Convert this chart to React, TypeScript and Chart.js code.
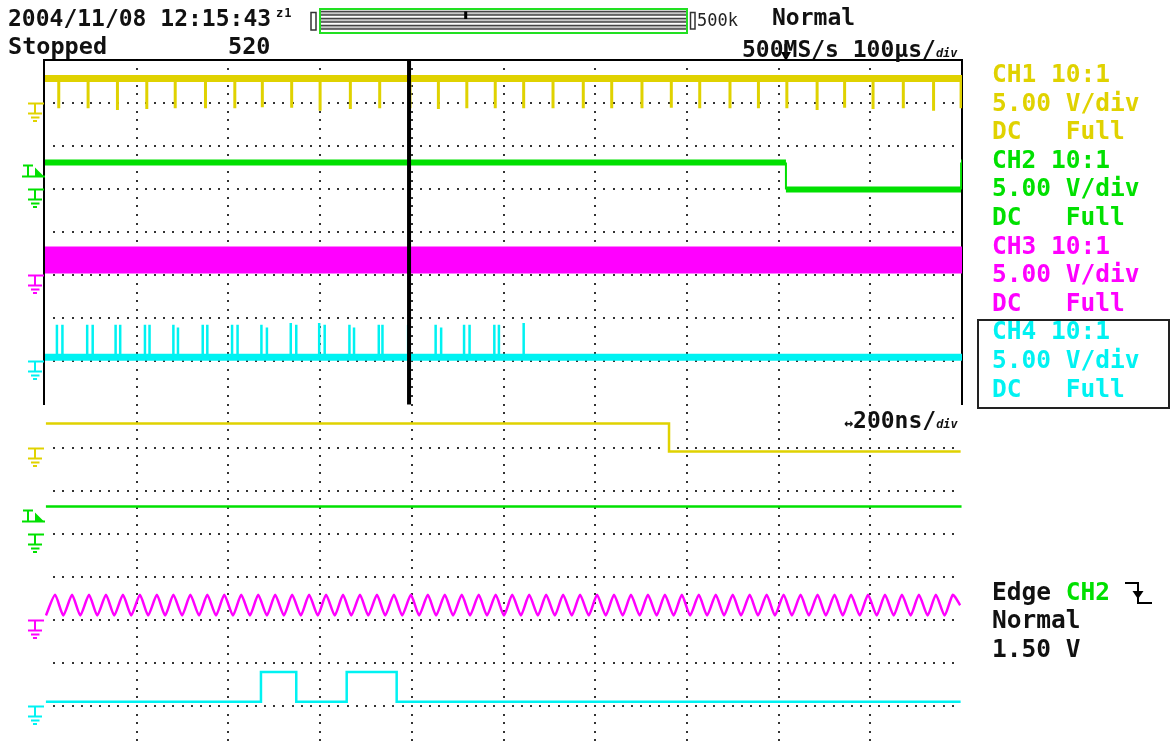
import React, { useEffect, useRef } from 'react';
import { Chart, registerables } from 'chart.js';

Chart.register(...registerables);

const YELLOW = '#e0d200';
const GREEN = '#00e000';
const MAGENTA = '#ff00ff';
const CYAN = '#00f2f2';
const INK = '#111111';
const DOT = '#333333';
const FONT = "'DejaVu Sans Mono', 'Liberation Mono', monospace";

// ---- axes: main window in µs (100 µs/div), zoom window in ns (200 ns/div), levels in divisions
const mainTimeMin = 0;
const mainTimeMax = 1000;
const zoomTimeMin = 0;
const zoomTimeMax = 2000;
const levelMin = 0;
const levelMax = 16;
const gridTimes = [100, 200, 300, 400, 500, 600, 700, 800, 900];
const gridLevels = [1, 2, 3, 4, 5, 6, 7, 9, 10, 11, 12, 13, 14, 15];
const groundLevels = [15, 13, 11, 9, 7, 5, 3, 1];
const triggerLevels = [13.3, 5.3];
const cursorTime = 397;
const triggerTime = 808;

// ---- main window (µs)
const ch1Level = 15.57;
const ch1SpikeTimes = [15, 47, 79, 111, 142, 175, 207, 237, 269, 300, 333, 365, 398, 429, 460, 491,
  522, 554, 587, 618, 651, 683, 714, 747, 778, 809, 842, 872, 903, 936, 969, 999];
const ch1SpikeLows = [14.88, 14.88, 14.84, 14.86, 14.88, 14.88, 14.88, 14.9, 14.89, 14.82, 14.86, 14.88, 14.88, 14.86, 14.88, 14.88,
  14.88, 14.88, 14.88, 14.88, 14.88, 14.89, 14.88, 14.88, 14.88, 14.88, 14.84, 14.89, 14.86, 14.88, 14.82, 14.88];

const ch2Times = [0, 808, 999, 1000];
const ch2Levels = [13.62, 12.99, 13.62];

const ch3BandTimes = [0, 1000];
const ch3BandUpper = [11.65, 11.65];
const ch3BandLower = [11.06, 11.06];

const ch4Level = 9.1;
const ch4PulseTimes = [13, 19, 46, 52, 77, 82, 109, 114, 140, 145, 172, 177, 204, 210, 236, 242,
  268, 274, 299, 305, 332, 337, 364, 368, 396, 426, 432, 457, 463, 490, 495, 522];
const ch4PulseTops = [9.85, 9.85, 9.85, 9.85, 9.85, 9.85, 9.85, 9.85, 9.85, 9.79, 9.85, 9.85, 9.85, 9.85, 9.85, 9.79,
  9.89, 9.85, 9.89, 9.85, 9.85, 9.79, 9.85, 9.85, 9.85, 9.85, 9.79, 9.85, 9.85, 9.85, 9.85, 9.89];

// ---- zoom window (ns)
const ch1ZoomTimes = [2, 1361, 1997];
const ch1ZoomLevels = [7.56, 6.91];

const ch2ZoomTimes = [2, 1999];
const ch2ZoomLevels = [5.63];

const ch3ZoomTroughTimes = [2, 40, 77, 114, 151, 188, 225, 262, 299, 336, 373, 410, 447, 484, 521, 558, 595, 632,
  668, 705, 742, 779, 816, 853, 890, 927, 964, 1001, 1038, 1075, 1112, 1149, 1186, 1223, 1260, 1297, 1334,
  1371, 1407, 1444, 1481, 1518, 1555, 1592, 1629, 1666, 1703, 1740, 1777, 1814, 1851, 1888, 1925, 1962];
const ch3ZoomPeakTimes = [22, 59, 96, 133, 170, 207, 244, 280, 317, 354, 391, 428, 465, 502, 539, 576, 613, 650,
  687, 724, 761, 798, 835, 872, 909, 946, 983, 1019, 1056, 1093, 1130, 1167, 1204, 1241, 1278, 1315, 1352,
  1389, 1426, 1463, 1500, 1537, 1574, 1611, 1648, 1685, 1722, 1758, 1795, 1832, 1869, 1906, 1943, 1980];
const ch3ZoomPeak = 3.58;
const ch3ZoomTrough = 3.1;
const ch3ZoomEnd = { t: 1996, v: 3.34 };

const ch4ZoomTimes = [2, 471, 548, 658, 767, 1997];
const ch4ZoomLevels = [1.1, 1.79, 1.1, 1.79, 1.1];

// ---- helpers building chart data from the arrays above
type P = { x: number; y: number | null };
function stepPoints(times: number[], levels: number[]): P[] {
  const out: P[] = [];
  levels.forEach((lv, i) => {
    out.push({ x: times[i], y: lv }, { x: times[i + 1], y: lv });
  });
  return out;
}
function stepFlats(times: number[], levels: number[]): P[] {
  const out: P[] = [];
  levels.forEach((lv, i) => {
    out.push({ x: times[i], y: lv }, { x: times[i + 1], y: lv }, { x: times[i + 1], y: null });
  });
  return out;
}
function stepEdges(times: number[], levels: number[]): P[] {
  const out: P[] = [];
  for (let i = 1; i < levels.length; i++) {
    out.push({ x: times[i], y: levels[i - 1] }, { x: times[i], y: levels[i] }, { x: times[i], y: null });
  }
  return out;
}
function verticals(times: number[], base: number, ends: number[]): P[] {
  const out: P[] = [];
  times.forEach((t, i) => {
    out.push({ x: t, y: base }, { x: t, y: ends[i] }, { x: t, y: null });
  });
  return out;
}
function pairs(times: number[], vals: number[]): P[] {
  return times.map((t, i) => ({ x: t, y: vals[i] }));
}
function wavePoints(): P[] {
  const out: P[] = [];
  ch3ZoomPeakTimes.forEach((pt, i) => {
    out.push({ x: ch3ZoomTroughTimes[i], y: ch3ZoomTrough });
    out.push({ x: pt, y: ch3ZoomPeak });
  });
  out.push({ x: ch3ZoomEnd.t, y: ch3ZoomEnd.v });
  return out;
}

function line(ctx: CanvasRenderingContext2D, x1: number, y1: number, x2: number, y2: number) {
  ctx.beginPath();
  ctx.moveTo(x1, y1);
  ctx.lineTo(x2, y2);
  ctx.stroke();
}

const groundColors = [YELLOW, GREEN, MAGENTA, CYAN, YELLOW, GREEN, MAGENTA, CYAN];

const scopePlugin = {
  id: 'scopeScreen',
  beforeDatasetsDraw(chart: any) {
    const { ctx, scales } = chart;
    const x = scales.x;
    const y = scales.y;
    ctx.save();
    ctx.fillStyle = DOT;
    for (const t of gridTimes) {
      const px = Math.round(x.getPixelForValue(t));
      for (let k = 1; k <= 80; k++) {
        const py = Math.round(y.getPixelForValue(levelMax - k * 0.2));
        ctx.fillRect(px - 1, py - 1, 2, 2);
      }
    }
    for (const lv of gridLevels) {
      const py = Math.round(y.getPixelForValue(lv));
      for (let k = 1; k < 100; k++) {
        const px = Math.round(x.getPixelForValue(mainTimeMin + k * 10));
        ctx.fillRect(px - 1, py - 1, 2, 2);
      }
    }
    // frame of the main window
    const l = Math.round(x.getPixelForValue(mainTimeMin));
    const r = Math.round(x.getPixelForValue(mainTimeMax));
    const top = Math.round(y.getPixelForValue(levelMax));
    const mid = Math.round(y.getPixelForValue(8));
    ctx.fillStyle = '#000';
    ctx.fillRect(l - 2, top - 1, 2, mid - top + 1);
    ctx.fillRect(l - 2, top - 1, r - l + 3, 2);
    ctx.fillRect(r - 1, top - 1, 2, mid - top + 1);
    ctx.restore();
  },
  afterDraw(chart: any) {
    const { ctx, scales } = chart;
    const x = scales.x;
    const y = scales.y;
    ctx.save();
    ctx.lineCap = 'butt';
    // ground markers
    groundLevels.forEach((lv, i) => {
      const py = Math.round(y.getPixelForValue(lv)) + 0.5;
      ctx.strokeStyle = groundColors[i];
      ctx.lineWidth = 2;
      line(ctx, 28, py, 44, py);
      line(ctx, 35, py, 35, py + 10);
      line(ctx, 28, py + 10, 42, py + 10);
      line(ctx, 31, py + 14, 39.5, py + 14);
      line(ctx, 33, py + 17.5, 37, py + 17.5);
    });
    // trigger level markers (CH2)
    triggerLevels.forEach((lv) => {
      const py = Math.round(y.getPixelForValue(lv)) + 0.5;
      ctx.strokeStyle = GREEN;
      ctx.fillStyle = GREEN;
      ctx.lineWidth = 2;
      line(ctx, 22, py, 45, py);
      line(ctx, 23, py - 11, 33, py - 11);
      line(ctx, 28, py - 11, 28, py);
      ctx.beginPath();
      ctx.moveTo(35, py - 9);
      ctx.lineTo(44, py);
      ctx.lineTo(35, py);
      ctx.closePath();
      ctx.fill();
    });
    // trigger point marker on top edge
    const tx = x.getPixelForValue(triggerTime);
    const top = y.getPixelForValue(levelMax);
    ctx.fillStyle = '#000';
    ctx.fillRect(tx - 1.5, top - 16, 3, 10);
    ctx.beginPath();
    ctx.moveTo(tx - 5, top - 8);
    ctx.lineTo(tx + 5, top - 8);
    ctx.lineTo(tx, top + 1);
    ctx.closePath();
    ctx.fill();

    // record-length bar in the header
    const bx0 = 320;
    const bx1 = 687;
    const stripePairs = [[11.5, 15], [18.5, 22], [25.5, 29]];
    stripePairs.forEach(([a, b]) => {
      ctx.fillStyle = '#c8c8c8';
      ctx.fillRect(bx0, a, bx1 - bx0, b - a);
      ctx.strokeStyle = '#444';
      ctx.lineWidth = 1.4;
      line(ctx, bx0, a, bx1, a);
      line(ctx, bx0, b, bx1, b);
    });
    ctx.strokeStyle = '#22e022';
    ctx.lineWidth = 2;
    ctx.strokeRect(bx0, 9, bx1 - bx0, 24);
    const cx = bx0 + ((cursorTime - mainTimeMin) / (mainTimeMax - mainTimeMin)) * (bx1 - bx0);
    ctx.fillStyle = '#000';
    ctx.fillRect(cx - 1.5, 11.5, 3, 7.5);
    ctx.strokeStyle = '#333';
    ctx.lineWidth = 1.5;
    ctx.strokeRect(311, 12.5, 5, 17.5);
    ctx.strokeRect(690.5, 12.5, 4.5, 16.5);

    // trigger slope icon (falling edge)
    ctx.strokeStyle = '#000';
    ctx.fillStyle = '#000';
    ctx.lineWidth = 2;
    ctx.beginPath();
    ctx.moveTo(1125, 583);
    ctx.lineTo(1138, 583);
    ctx.lineTo(1138, 603);
    ctx.lineTo(1152, 603);
    ctx.stroke();
    ctx.beginPath();
    ctx.moveTo(1132.5, 591);
    ctx.lineTo(1143.5, 591);
    ctx.lineTo(1138, 599);
    ctx.closePath();
    ctx.fill();
    ctx.restore();
  },
};

function Label(props: any) {
  const { x, cy, size = 23.5, color = INK, bold = true, lh = 28, children, style } = props;
  return (
    <div
      style={{
        position: 'absolute',
        left: x,
        top: cy - lh / 2,
        height: lh,
        lineHeight: lh + 'px',
        fontSize: size,
        fontFamily: FONT,
        fontWeight: bold ? 700 : 400,
        color,
        whiteSpace: 'pre',
        ...style,
      }}
    >
      {children}
    </div>
  );
}

const panelLines: [string, string][] = [
  ['CH1 10:1', YELLOW], ['5.00 V/div', YELLOW], ['DC   Full', YELLOW],
  ['CH2 10:1', GREEN], ['5.00 V/div', GREEN], ['DC   Full', GREEN],
  ['CH3 10:1', MAGENTA], ['5.00 V/div', MAGENTA], ['DC   Full', MAGENTA],
  ['CH4 10:1', CYAN], ['5.00 V/div', CYAN], ['DC   Full', CYAN],
];

export default function App() {
  const ref = useRef<HTMLCanvasElement>(null);
  useEffect(() => {
    if (!ref.current) return;
    const thin = { pointRadius: 0, fill: false, tension: 0 };
    const chart = new Chart(ref.current, {
      type: 'line',
      data: {
        datasets: [
          { label: 'cursor', data: pairs([cursorTime, cursorTime], [levelMax, 8]), borderColor: '#000', borderWidth: 4, order: 0, xAxisID: 'x', ...thin },
          { label: 'CH1', data: pairs([mainTimeMin, mainTimeMax], [ch1Level, ch1Level]), borderColor: YELLOW, borderWidth: 7, order: 1, xAxisID: 'x', ...thin },
          { label: 'CH1 glitches', data: verticals(ch1SpikeTimes, ch1Level, ch1SpikeLows), borderColor: YELLOW, borderWidth: 3, order: 1, xAxisID: 'x', ...thin },
          { label: 'CH2', data: stepFlats(ch2Times, ch2Levels), borderColor: GREEN, borderWidth: 6, order: 1, xAxisID: 'x', ...thin },
          { label: 'CH2 edges', data: stepEdges(ch2Times, ch2Levels), borderColor: GREEN, borderWidth: 2, order: 1, xAxisID: 'x', ...thin },
          { label: 'CH3 max', data: pairs(ch3BandTimes, ch3BandUpper), borderColor: MAGENTA, borderWidth: 1.5, order: 2, xAxisID: 'x', ...thin },
          { label: 'CH3 min', data: pairs(ch3BandTimes, ch3BandLower), borderColor: MAGENTA, borderWidth: 1.5, order: 2, xAxisID: 'x', pointRadius: 0, tension: 0, fill: '-1', backgroundColor: MAGENTA },
          { label: 'CH4', data: pairs([mainTimeMin, mainTimeMax], [ch4Level, ch4Level]), borderColor: CYAN, borderWidth: 7, order: 1, xAxisID: 'x', ...thin },
          { label: 'CH4 pulses', data: verticals(ch4PulseTimes, ch4Level, ch4PulseTops), borderColor: CYAN, borderWidth: 2.5, order: 1, xAxisID: 'x', ...thin },
          { label: 'CH1 zoom', data: stepPoints(ch1ZoomTimes, ch1ZoomLevels), borderColor: YELLOW, borderWidth: 2.5, order: 1, xAxisID: 'x2', ...thin },
          { label: 'CH2 zoom', data: stepPoints(ch2ZoomTimes, ch2ZoomLevels), borderColor: GREEN, borderWidth: 2.5, order: 1, xAxisID: 'x2', ...thin },
          { label: 'CH3 zoom', data: wavePoints(), borderColor: MAGENTA, borderWidth: 2.5, order: 1, xAxisID: 'x2', pointRadius: 0, fill: false, tension: 0.2 },
          { label: 'CH4 zoom', data: stepPoints(ch4ZoomTimes, ch4ZoomLevels), borderColor: CYAN, borderWidth: 2.5, order: 1, xAxisID: 'x2', ...thin },
        ] as any,
      },
      options: {
        animation: false,
        responsive: false,
        maintainAspectRatio: false,
        devicePixelRatio: 1,
        events: [],
        layout: { padding: { left: 45, right: 209, top: 60, bottom: 0 } },
        plugins: { legend: { display: false }, tooltip: { enabled: false }, title: { display: false } },
        scales: {
          x: { type: 'linear', axis: 'x', min: mainTimeMin, max: mainTimeMax, display: false },
          x2: { type: 'linear', axis: 'x', min: zoomTimeMin, max: zoomTimeMax, display: false },
          y: { type: 'linear', min: levelMin, max: levelMax, display: false },
        },
      } as any,
      plugins: [scopePlugin],
    });
    return () => chart.destroy();
  }, []);

  return (
    <div style={{ position: 'absolute', left: 0, top: 0, width: 1171, height: 745, overflow: 'hidden', background: '#fff' }}>
      <canvas ref={ref} width={1171} height={749} style={{ position: 'absolute', left: 0, top: 0, width: 1171, height: 749 }} />
      <Label x={8} cy={17.5} size={23}>2004/11/08 12:15:43</Label>
      <Label x={276} cy={13} size={12} lh={14} style={{ letterSpacing: 1 }}>z1</Label>
      <Label x={697} cy={20} size={17} bold={false} color="#222">500k</Label>
      <Label x={772} cy={17} size={23}>Normal</Label>
      <Label x={8} cy={45.5} size={23.5}>Stopped</Label>
      <Label x={228} cy={45.5} size={23.5}>520</Label>
      <Label x={742} cy={48.5} size={23}>
        500MS/s 100µs/<span style={{ fontSize: 12, fontStyle: 'italic' }}>div</span>
      </Label>
      {panelLines.map(([txt, col], i) => (
        <Label key={i} x={992} cy={74 + i * 28.6} size={24.5} color={col}>{txt}</Label>
      ))}
      <div style={{ position: 'absolute', left: 977, top: 319, width: 189, height: 86, border: '2px solid #222' }} />
      <Label x={844} cy={420} size={23}>
        <span style={{ fontSize: 15 }}>↔</span>200ns/<span style={{ fontSize: 12, fontStyle: 'italic' }}>div</span>
      </Label>
      <Label x={992} cy={591.5} size={24.5}>
        Edge <span style={{ color: GREEN }}>CH2</span>
      </Label>
      <Label x={992} cy={620} size={24.5}>Normal</Label>
      <Label x={992} cy={648.5} size={24.5}>1.50 V</Label>
    </div>
  );
}
